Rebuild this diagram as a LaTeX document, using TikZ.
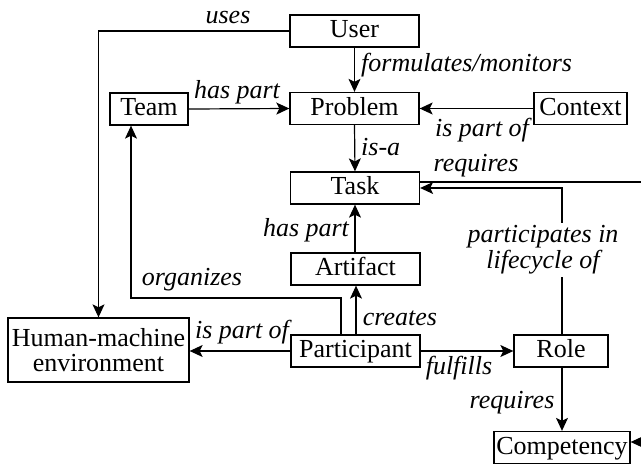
\documentclass[tikz,border=0pt]{standalone}
\usepackage{fontspec}
\setmainfont{Liberation Serif}[
  UprightFont=*,
  ItalicFont=* Italic,
  BoldFont=* Bold]
\usetikzlibrary{arrows.meta}
\begin{document}
\begin{tikzpicture}[x=1pt,y=-1pt,
  every node/.style={font=\fontsize{26}{26}\selectfont},
  box/.style={draw,line width=1.3pt,inner sep=1pt,minimum height=32pt,
    text height=18pt,text depth=5pt},
  lbl/.style={font=\fontsize{26}{26}\selectfont\itshape,inner sep=1pt},
  link/.style={line width=1.2pt,-{Stealth[length=13pt,width=12pt,inset=3pt]}}]
\useasboundingbox (0,0) rectangle (641,464);

% concepts
\node[box,minimum width=129pt] (user) at (354.5,31) {User};
\node[box,minimum width=129pt] (problem) at (354.5,108.5) {Problem};
\node[box,minimum width=78pt] (team) at (149,109) {Team};
\node[box,minimum width=93pt] (context) at (580.5,108.5) {Context};
\node[box,minimum width=129pt] (task) at (355,188) {Task};
\node[box,minimum width=129pt] (artifact) at (355.5,269) {Artifact};
\node[draw,line width=1.3pt,inner sep=1pt,minimum width=181pt,minimum height=64pt,
  align=center] (hm) at (98.5,350) {Human-machine\\[-1pt]environment};
\node[box,minimum width=129pt] (participant) at (355.5,351) {Participant};
\node[box,minimum width=94pt] (role) at (561,351) {Role};
\node[box,minimum width=136pt] (competency) at (562,447.5) {Competency};

% relations
\draw[link] (user.west) -| (hm.north);
\node[lbl] (l-uses) at (228,18) {uses};

\draw[link] (user.south) -- (problem.north);
\node[lbl,anchor=west] (l-form) at (360,65) {formulates/monitors};

\draw[link] (team.east) -- (problem.west);
\node[lbl] (l-haspart1) at (237,92) {has part};

\draw[link] (context.west) -- (problem.east);
\node[lbl] (l-ispart1) at (482,130) {is part of};

\draw[link] (problem.south) -- (task.north);
\node[lbl,anchor=west] (l-isa) at (360,147) {is-a};

\coordinate (rq1) at (650,182);
\coordinate (rq2) at (650,442);
\draw[link] (task.east |- 0,182) -- (rq1) -- (rq2) -- (competency.east |- 0,442);
\node[lbl] (l-req1) at (476,166) {requires};

\draw[link] (role.north -| 562,0) -- (562,188) -- (task.east |- 0,188);
\node[lbl,fill=white,align=center,inner sep=3pt] (l-part) at (543,250)
  {participates in\\[0pt]lifecycle of};

\draw[link] (artifact.north -| 355,0) -- (task.south -| 355,0);
\node[lbl] (l-haspart2) at (306,230) {has part};

\draw[link] (participant.north -| 356,0) -- (artifact.south -| 356,0);
\node[lbl] (l-creates) at (400,318) {creates};

\draw[link] (participant.north -| 341,0) -- (341,298) -- (131,298) -- (team.south -| 131,0);
\node[lbl] (l-org) at (192,280) {organizes};

\draw[link] (participant.west) -- (hm.east |- participant.west);
\node[lbl] (l-ispart2) at (242,332) {is part of};

\draw[link] (participant.east) -- (role.west);
\node[lbl] (l-fulfills) at (459,368) {fulfills};

\draw[link] (role.south -| 562,0) -- (competency.north -| 562,0);
\node[lbl] (l-req2) at (512,403) {requires};
\end{tikzpicture}
\end{document}
